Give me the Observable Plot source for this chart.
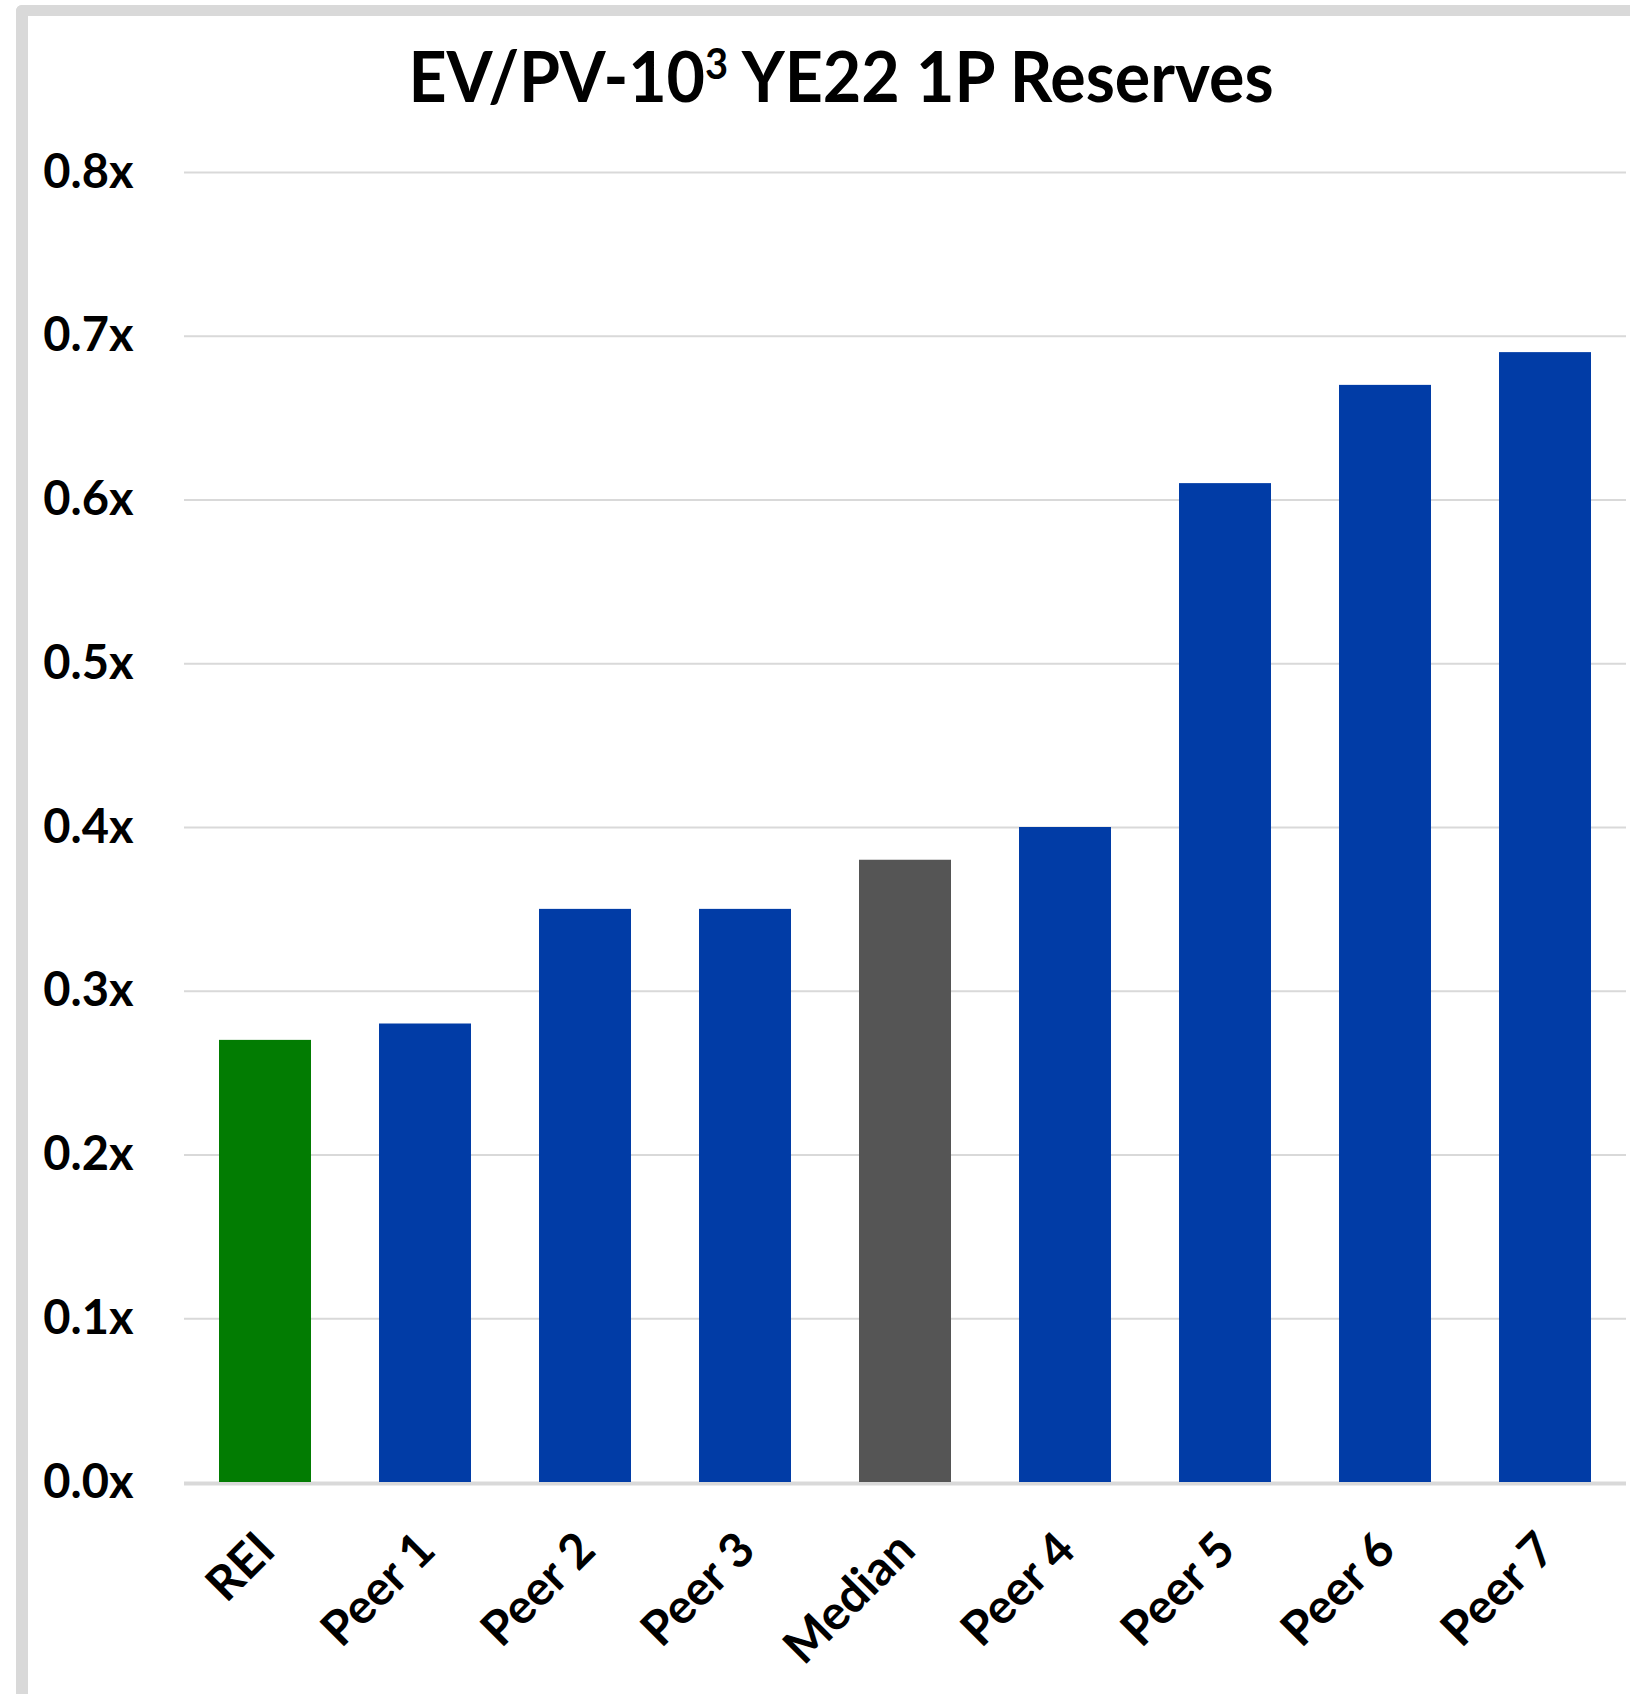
<!DOCTYPE html>
<html>
<head>
<meta charset="utf-8">
<script src="https://cdn.jsdelivr.net/npm/d3@7"></script>
<script src="https://cdn.jsdelivr.net/npm/@observablehq/plot@0.6"></script>
<style>
  html, body { margin: 0; padding: 0; background: #fff; overflow: hidden; width: 1630px; height: 1694px; }
  #wrap { position: relative; width: 1630px; height: 1694px; }
  #frame { position: absolute; left: 16px; top: 5px; width: 1700px; height: 1800px;
           border-left: 12px solid #d9d9d9; border-top: 11px solid #d9d9d9;
           border-top-left-radius: 6px; box-sizing: border-box; pointer-events: none; z-index: 2; }
  #title { position: absolute; left: 841px; top: 33px; transform: translateX(-50%) scaleX(0.948);
           font-family: Lato, "Open Sans", sans-serif; font-weight: 700; font-size: 70px;
           line-height: 84px; white-space: nowrap; color: #000; z-index: 3; }
  #title sup { font-size: 0.6em; vertical-align: 0.55em; line-height: 0; }
  #chart { position: absolute; left: 0; top: 140px; }
  #chart svg { display: block; }
</style>
</head>
<body>
<div id="wrap">
  <div id="frame"></div>
  <div id="title">EV/PV-10<sup>3</sup> YE22 1P Reserves</div>
  <div id="chart"></div>
</div>
<script>
const categories = ["REI", "Peer 1", "Peer 2", "Peer 3", "Median", "Peer 4", "Peer 5", "Peer 6", "Peer 7"];
const values = [0.27, 0.28, 0.35, 0.35, 0.38, 0.40, 0.61, 0.67, 0.69];
const kinds = ["Company", "Peer", "Peer", "Peer", "Median", "Peer", "Peer", "Peer", "Peer"];
const kindDomain = ["Company", "Peer", "Median"];
const kindColors = ["#027c02", "#013ca6", "#555555"];
const yTicks = [0, 0.1, 0.2, 0.3, 0.4, 0.5, 0.6, 0.7, 0.8];
const yTickLabels = ["0.0x", "0.1x", "0.2x", "0.3x", "0.4x", "0.5x", "0.6x", "0.7x", "0.8x"];

const data = categories.map((c, i) => ({cat: c, value: values[i], kind: kinds[i]}));

const chart = Plot.plot({
  width: 1630,
  height: 1554,
  marginTop: 32,
  marginBottom: 212,
  marginLeft: 184,
  marginRight: 4,
  style: {fontFamily: "Lato, 'Open Sans', sans-serif", fontWeight: 700, fontSize: "47px", color: "#000", background: "transparent", overflow: "visible"},
  x: {domain: categories, paddingInner: 0.425, paddingOuter: 0.2125, axis: null},
  y: {domain: [0, 0.8]},
  color: {domain: kindDomain, range: kindColors},
  marks: [
    Plot.gridY(yTicks, {stroke: "#d9d9d9", strokeOpacity: 1, strokeWidth: 2}),
    Plot.axisY(yTicks, {tickSize: 0, tickPadding: 51, label: null,
      tickFormat: (d) => yTickLabels[yTicks.indexOf(d)], fontSize: 47, fontWeight: 700}),
    Plot.barY(data, {x: "cat", y: "value", fill: "kind"}),
    Plot.ruleY([0], {stroke: "#d9d9d9", strokeWidth: 3, dy: 1.5}),
    Plot.text(data, {x: "cat", y: () => 0, text: "cat", rotate: -45, textAnchor: "end",
      lineAnchor: "top", dx: -12, dy: 46, fontSize: 48, fontWeight: 700, fill: "#000"})
  ]
});
document.getElementById("chart").appendChild(chart);
</script>
</body>
</html>
